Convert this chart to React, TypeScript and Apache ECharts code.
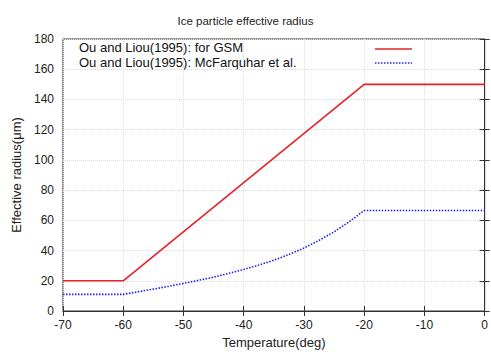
import React, { useEffect, useRef } from "react";
import * as echarts from "echarts";

const gsmTemps = [-70, -60, -20, 0];
const gsmRadius = [20, 20, 150, 150];
const mcfTemps = [-70, -60, -57.5, -55, -52.5, -50, -47.5, -45, -42.5, -40, -37.5, -35, -32.5, -30, -27.5, -25, -22.5, -20, 0];
const mcfRadius = [11, 11, 12.7, 14.5, 16.3, 18.3, 20.3, 22.4, 24.9, 27.5, 30.4, 33.6, 37.4, 41.7, 46.7, 52.4, 59.0, 66.5, 66.5];
const seriesNames = ["Ou and Liou(1995): for GSM", "Ou and Liou(1995): McFarquhar et al."];
const FONT = "Liberation Sans, Arial, sans-serif";

export default function App() {
  const ref = useRef<HTMLDivElement>(null);
  useEffect(() => {
    const chart = echarts.init(ref.current!, null, { renderer: "svg" });
    const axisLabel = { color: "#222", fontSize: 12, fontFamily: FONT };
    chart.setOption({
      animation: false,
      backgroundColor: "#fff",
      title: {
        text: "Ice particle effective radius",
        left: "center",
        top: 10,
        textStyle: { fontSize: 11.5, fontWeight: "normal", color: "#222", fontFamily: FONT },
      },
      grid: { left: 63, right: 3, top: 39, bottom: 43, show: true, borderColor: "#333", borderWidth: 1 },
      xAxis: [
        {
          type: "value", min: -70, max: 0, interval: 10,
          name: "Temperature(deg)", nameLocation: "middle", nameGap: 24,
          nameTextStyle: { fontSize: 13, color: "#222", fontFamily: FONT },
          axisLine: { show: true, lineStyle: { color: "#333" } },
          axisTick: { show: true, inside: true, length: 5, lineStyle: { color: "#333" } },
          axisLabel: { ...axisLabel, margin: 8 },
          splitLine: { show: true, lineStyle: { color: "#ddd", type: "dotted" } },
        },
        {
          type: "value", min: -70, max: 0, interval: 10, position: "top",
          axisLine: { show: false },
          axisTick: { show: true, inside: true, length: 5, lineStyle: { color: "#333" } },
          axisLabel: { show: false }, splitLine: { show: false },
        },
      ],
      yAxis: [
        {
          type: "value", min: 0, max: 180, interval: 20,
          name: "Effective radius(μm)", nameLocation: "middle", nameGap: 40,
          nameTextStyle: { fontSize: 13, color: "#222", fontFamily: FONT },
          axisLine: { show: true, lineStyle: { color: "#333" } },
          axisTick: { show: true, inside: true, length: 5, lineStyle: { color: "#333" } },
          axisLabel: { ...axisLabel, margin: 9 },
          splitLine: { show: true, lineStyle: { color: "#ddd", type: "dotted" } },
        },
        {
          type: "value", min: 0, max: 180, interval: 20, position: "right",
          axisLine: { show: false },
          axisTick: { show: true, inside: true, length: 5, lineStyle: { color: "#333" } },
          axisLabel: { show: false }, splitLine: { show: false },
        },
      ],
      series: [
        {
          name: seriesNames[0], type: "line", showSymbol: false, symbol: "none",
          data: gsmTemps.map((t, i) => [t, gsmRadius[i]]),
          lineStyle: { color: "#e8202a", width: 1.6 },
        },
        {
          name: seriesNames[1], type: "line", showSymbol: false, symbol: "none",
          data: mcfTemps.map((t, i) => [t, mcfRadius[i]]),
          lineStyle: { color: "#2222ee", width: 1.6, type: [1.5, 1.5] },
        },
      ],
      graphic: [
        { type: "text", left: 79, top: 41, style: { text: seriesNames[0], fontSize: 13, fill: "#111", fontFamily: FONT } },
        { type: "text", left: 79, top: 56, style: { text: seriesNames[1], fontSize: 13, fill: "#111", fontFamily: FONT } },
        { type: "line", shape: { x1: 375, y1: 49, x2: 412, y2: 49 }, style: { stroke: "#e8202a", lineWidth: 1.6 } },
        { type: "line", shape: { x1: 375, y1: 63, x2: 412, y2: 63 }, style: { stroke: "#2222ee", lineWidth: 1.6, lineDash: [1.5, 1.5] } },
      ],
    });
    return () => chart.dispose();
  }, []);
  return <div ref={ref} style={{ width: 491, height: 354, position: "absolute", left: 0, top: 0 }} />;
}
